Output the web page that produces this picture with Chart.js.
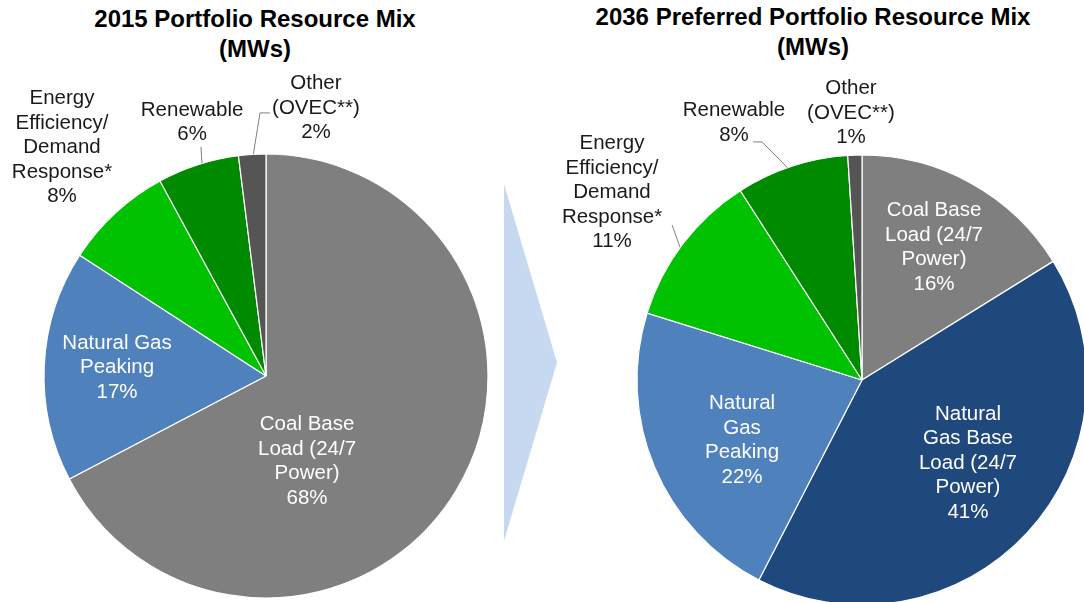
<!DOCTYPE html>
<html>
<head>
<meta charset="utf-8">
<script src="https://cdn.jsdelivr.net/npm/chart.js@4"></script>
<style>
html, body { margin:0; padding:0; background:#fff; }
body { width:1084px; height:602px; overflow:hidden; position:relative; font-family:"Liberation Sans", Arial, sans-serif; }
.title { position:absolute; top:4px; font-weight:bold; font-size:24px; line-height:30px; text-align:center; color:#000; white-space:nowrap; }
#chevron { position:absolute; left:504px; top:184px; width:53px; height:357px; background:#c6d9f1; clip-path:polygon(0 0, 100% 50%, 0 100%); }
canvas { position:absolute; top:0; }
</style>
</head>
<body>

<div class="title" style="left:55px; width:400px;">2015 Portfolio Resource Mix<br>(MWs)</div>
<div class="title" style="left:563px; width:500px; top:2px;">2036 Preferred Portfolio Resource Mix<br>(MWs)</div>
<div id="chevron"></div>

<canvas id="mix2015" width="540" height="602" style="left:0px;"></canvas>
<canvas id="mix2036" width="560" height="620" style="left:540px;"></canvas>

<script>

// ---------- DATA ----------

const labels2015 = [["Coal Base", "Load (24/7", "Power)"], ["Natural Gas", "Peaking"], ["Energy", "Efficiency/", "Demand", "Response*"], ["Renewable"], ["Other", "(OVEC**)"]];
const share2015 = [68, 17, 8, 6, 2];

const labels2036 = [["Coal Base", "Load (24/7", "Power)"], ["Natural", "Gas Base", "Load (24/7", "Power)"], ["Natural", "Gas", "Peaking"], ["Energy", "Efficiency/", "Demand", "Response*"], ["Renewable"], ["Other", "(OVEC**)"]];
const share2036 = [16, 41, 22, 11, 8, 1];


// ---------- COLOURS ----------

const GREY = "#7f7f7f";
const NG_PEAK = "#4f81bd";
const NG_BASE = "#1f497d";
const EE_GREEN = "#00c200";
const RENEW_GREEN = "#008a00";
const OTHER_GREY = "#555555";


// ---------- LABEL LAYOUT (offsets in pie radius units) ----------

const layout2015 = [
  { dx: 0.185, dy: 0.385, color: "#fff" },
  { dx: -0.671, dy: -0.038, color: "#fff" },
  { dx: -0.919, dy: -1.029, color: "#1a1a1a" },
  { dx: -0.333, dy: -1.142, color: "#1a1a1a", leader: { at: 0.55, pts: [[-0.293, -1.032]] } },
  { dx: 0.225, dy: -1.207, color: "#1a1a1a", leader: { at: 0.54, pts: [[-0.027, -1.185], [0.018, -1.185]] } }
];

const layout2036 = [
  { dx: 0.32, dy: -0.589, color: "#fff" },
  { dx: 0.471, dy: 0.369, color: "#fff" },
  { dx: -0.533, dy: 0.269, color: "#fff" },
  { dx: -1.111, dy: -0.833, color: "#1a1a1a", leader: { at: 0.47, pts: [[-0.844, -0.689]] } },
  { dx: -0.569, dy: -1.142, color: "#1a1a1a", leader: { at: 0.46, pts: [[-0.444, -1.058], [-0.484, -1.058]] } },
  { dx: -0.049, dy: -1.187, color: "#1a1a1a" }
];


// ---------- SLICE LABEL PLUGIN ----------

const sliceLabels = {
  id: "sliceLabels",
  afterDatasetsDraw(chart, args, opts){

    let ctx = chart.ctx;
    let meta = chart.getDatasetMeta(0);
    let values = chart.data.datasets[0].data;

    ctx.save();
    ctx.font = "20.5px 'Liberation Sans', Arial, sans-serif";
    ctx.textAlign = "center";
    ctx.textBaseline = "middle";

    meta.data.forEach((arc, i) => {

      let cx = arc.x, cy = arc.y, r = arc.outerRadius;
      let lay = opts.layout[i];

      // leader line from the slice edge
      if(lay.leader){
        let a = arc.startAngle + lay.leader.at * (arc.endAngle - arc.startAngle);
        ctx.beginPath();
        ctx.moveTo(cx + r * Math.cos(a), cy + r * Math.sin(a));
        lay.leader.pts.forEach(p => ctx.lineTo(cx + p[0] * r, cy + p[1] * r));
        ctx.strokeStyle = "#808080";
        ctx.lineWidth = 1;
        ctx.stroke();
      }

      let lines = chart.data.labels[i].concat([values[i] + "%"]);
      let lh = 24.5;
      let x = cx + lay.dx * r;
      let y0 = cy + lay.dy * r - (lines.length - 1) * lh / 2;

      ctx.fillStyle = lay.color;
      lines.forEach((t, k) => ctx.fillText(t, x, y0 + k * lh));

    });

    ctx.restore();
  }
};


// ---------- CHARTS ----------

function makePie(id, labels, values, colors, layout, padding, radius){

  new Chart(document.getElementById(id), {
    type: "pie",
    data: {
      labels: labels,
      datasets: [{
        data: values,
        backgroundColor: colors,
        borderColor: "#ffffff",
        borderWidth: 1.2,
        radius: radius
      }]
    },
    options: {
      responsive: false,
      animation: false,
      layout: { padding: padding },
      plugins: {
        legend: { display: false },
        tooltip: { enabled: false },
        sliceLabels: { layout: layout }
      }
    },
    plugins: [sliceLabels]
  });

}

makePie("mix2015", labels2015, share2015,
  [GREY, NG_PEAK, EE_GREEN, RENEW_GREEN, OTHER_GREY],
  layout2015, { left: 44, right: 52, top: 154, bottom: 4 }, 222);

makePie("mix2036", labels2036, share2036,
  [GREY, NG_BASE, NG_PEAK, EE_GREEN, RENEW_GREEN, OTHER_GREY],
  layout2036, { left: 97, right: 13, top: 155, bottom: 15 }, 225);

</script>
</body>
</html>
